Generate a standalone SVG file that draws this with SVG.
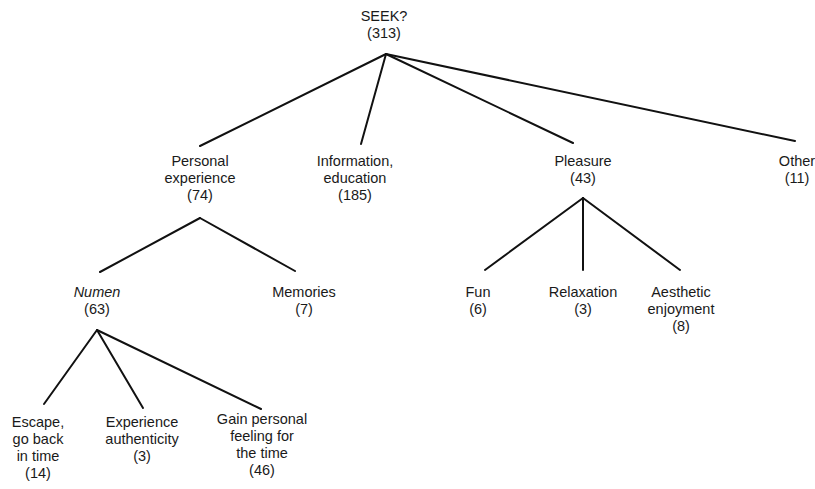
<svg xmlns="http://www.w3.org/2000/svg" width="815" height="489" viewBox="0 0 815 489">
<style>
text{font-family:"Liberation Sans",Arial,sans-serif;font-size:14.5px;fill:#1a1a1a;text-anchor:middle}
.it{font-style:italic}
#connectors line{stroke:#111;stroke-width:2;stroke-linecap:round}
</style>
<rect width="815" height="489" fill="#fff"/>
<g id="connectors">
<line x1="386" y1="54" x2="200" y2="146"/>
<line x1="386" y1="54" x2="361" y2="144"/>
<line x1="386" y1="54" x2="573" y2="143"/>
<line x1="386" y1="54" x2="795" y2="141"/>
<line x1="200" y1="218" x2="100" y2="272"/>
<line x1="200" y1="218" x2="295" y2="271"/>
<line x1="583" y1="198" x2="485" y2="270"/>
<line x1="583" y1="198" x2="583" y2="270"/>
<line x1="583" y1="198" x2="680" y2="270"/>
<line x1="97" y1="330" x2="44" y2="404"/>
<line x1="97" y1="330" x2="143" y2="408"/>
<line x1="97" y1="330" x2="261" y2="409"/>
</g>
<g id="seek"><text x="384" y="21">SEEK?</text><text x="384" y="38">(313)</text></g>
<g id="personal"><text x="200" y="166">Personal</text><text x="200" y="183">experience</text><text x="200" y="200">(74)</text></g>
<g id="information"><text x="355" y="166">Information,</text><text x="355" y="183">education</text><text x="355" y="200">(185)</text></g>
<g id="pleasure"><text x="583" y="166">Pleasure</text><text x="583" y="183">(43)</text></g>
<g id="other"><text x="797" y="166">Other</text><text x="797" y="183">(11)</text></g>
<g id="numen"><text x="97" y="297" class="it">Numen</text><text x="97" y="314">(63)</text></g>
<g id="memories"><text x="304" y="297">Memories</text><text x="304" y="314">(7)</text></g>
<g id="fun"><text x="478" y="297">Fun</text><text x="478" y="314">(6)</text></g>
<g id="relaxation"><text x="583" y="297">Relaxation</text><text x="583" y="314">(3)</text></g>
<g id="aesthetic"><text x="681" y="297">Aesthetic</text><text x="681" y="314">enjoyment</text><text x="681" y="331">(8)</text></g>
<g id="escape"><text x="38" y="427">Escape,</text><text x="38" y="444">go back</text><text x="38" y="461">in time</text><text x="38" y="478">(14)</text></g>
<g id="authenticity"><text x="142" y="427">Experience</text><text x="142" y="444">authenticity</text><text x="142" y="461">(3)</text></g>
<g id="gain"><text x="262" y="424">Gain personal</text><text x="262" y="441">feeling for</text><text x="262" y="458">the time</text><text x="262" y="475">(46)</text></g>
</svg>
